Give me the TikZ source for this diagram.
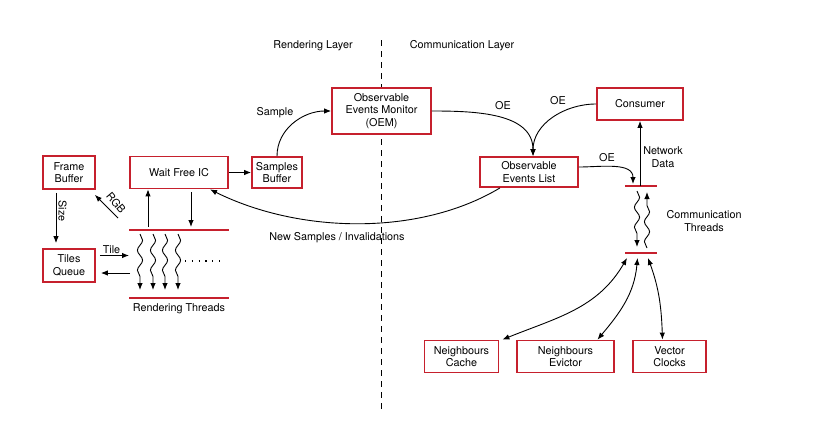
\documentclass[tikz,border=0pt]{standalone}
\usepackage{fontspec}
\setmainfont{TeX Gyre Heros}
\usetikzlibrary{arrows.meta,decorations.pathmorphing}
\definecolor{boxred}{RGB}{198,32,45}
\begin{document}
\begin{tikzpicture}[x=1pt,y=-1pt,
  font=\fontsize{10.8}{12.3}\selectfont,
  box/.style={draw=boxred, fill=white, line width=1.8pt, align=center, inner sep=0pt},
  arr/.style={-{Latex[length=7pt,width=5.5pt]}, line width=0.9pt},
  biarr/.style={{Latex[length=7pt,width=5.5pt]}-{Latex[length=7pt,width=5.5pt]}, line width=0.9pt},
  redline/.style={draw=boxred, line width=1.8pt},
  wavy/.style={arr, decorate, decoration={snake, amplitude=2.6pt, segment length=20pt, post length=11pt}},
  lbl/.style={inner sep=1pt, align=center}
]
\useasboundingbox (0,0) rectangle (819,423);

% layer labels and divider
\node[lbl] (rl) at (313,46) {Rendering Layer};
\node[lbl] (cl) at (462,46) {Communication Layer};
\coordinate (divT) at (381,40);
\coordinate (divB) at (381,412);
\draw[line width=0.9pt, dash pattern=on 6pt off 5pt] (divT) -- (divB);

% boxes
\node[box, minimum width=52pt, minimum height=33pt] (fb) at (69,172.5) {Frame\\Buffer};
\node[box, minimum width=98pt, minimum height=32pt] (wf) at (179,172.5) {Wait Free IC};
\node[box, minimum width=50pt, minimum height=31pt] (sb) at (277,172.5) {Samples\\Buffer};
\node[box, minimum width=99pt, minimum height=46pt] (oem) at (381.5,111) {Observable\\Events Monitor\\(OEM)};
\node[box, minimum width=98pt, minimum height=30pt] (oel) at (529,172) {Observable\\Events List};
\node[box, minimum width=86pt, minimum height=32pt] (cons) at (640,104) {Consumer};
\node[box, minimum width=52pt, minimum height=33pt] (tq) at (69,265.5) {Tiles\\Queue};
\node[box, minimum width=74pt, minimum height=32pt] (nc) at (461.5,356.5) {Neighbours\\Cache};
\node[box, minimum width=97pt, minimum height=32pt] (ne) at (565.5,356.5) {Neighbours\\Evictor};
\node[box, minimum width=73pt, minimum height=32pt] (vc) at (669.5,356.5) {Vector\\Clocks};

% rendering threads
\coordinate (rt1) at (129,230);
\coordinate (rt2) at (229,230);
\coordinate (rb1) at (129,298);
\coordinate (rb2) at (229,298);
\draw[redline] (rt1) -- (rt2);
\draw[redline] (rb1) -- (rb2);
\foreach \x [count=\i] in {140,153,165,178}{
  \coordinate (w\i a) at (\x,234);
  \coordinate (w\i b) at (\x,290);
  \draw[wavy] (w\i a) -- (w\i b);
}
\coordinate (dA) at (185,261);
\coordinate (dB) at (224,261);
\draw[line width=1.2pt, dash pattern=on 1.2pt off 5.6pt] (dA) -- (dB);
\node[lbl] (rtl) at (179,309) {Rendering Threads};

% frame buffer / tiles queue
\draw[arr, shorten <=3pt, shorten >=5pt] ([xshift=-13pt]fb.south) -- ([xshift=-13pt]tq.north);
\node[lbl, rotate=-90] (size) at (62.5,211) {Size};
\coordinate (rgbS) at (118,218);
\draw[arr] (rgbS) -- ([xshift=-1pt,yshift=-5pt]fb.south east);
\node[lbl, rotate=-50] (rgb) at (116,203) {RGB};

\draw[arr, shorten <=3pt] ([xshift=-31pt]rt1 -| wf.south) -- ([xshift=-31pt]wf.south);
\draw[arr, shorten <=3pt, shorten >=3pt] ([xshift=12pt]wf.south) -- ([xshift=12pt]wf.south |- rt1);

\coordinate (tileEnd) at (129,255.5);
\draw[arr] ([xshift=4pt,yshift=10pt]tq.east) -- (tileEnd) node[lbl, pos=0.4, above] {Tile};
\coordinate (backS) at (130,273);
\draw[arr] (backS) -- ([xshift=5pt,yshift=-7.5pt]tq.east);

% main flow
\draw[arr] (wf.east) -- (sb.west);
\draw[arr] (sb.north) to[out=90,in=180] (oem.west);
\node[lbl] (samplbl) at (275,113) {Sample};
\draw[arr] (oem.east) to[out=0,in=90] ([xshift=4pt]oel.north);
\node[lbl] (oe1) at (503,106) {OE};
\draw[arr] (cons.west) to[out=180,in=90] ([xshift=4pt]oel.north);
\node[lbl] (oe2) at (558,101) {OE};

% communication threads
\coordinate (ct1) at (625,186);
\coordinate (ct2) at (657,186);
\coordinate (cb1) at (625,253);
\coordinate (cb2) at (657,253);
\draw[redline] (ct1) -- (ct2);
\draw[redline] (cb1) -- (cb2);
\coordinate (cdA) at (637,191);
\coordinate (cdB) at (637,247);
\draw[wavy] (cdA) -- (cdB);
\coordinate (cuA) at (647,248);
\coordinate (cuB) at (647,192);
\draw[wavy] (cuA) -- (cuB);
\node[lbl] (ctl) at (704,221) {Communication\\Threads};

\coordinate (oeT) at (633,184);
\draw[arr] ([yshift=5pt]oel.east) to[out=0,in=90] (oeT);
\node[lbl] (oe3) at (607,158) {OE};
\coordinate (netS) at (640,186);
\draw[arr] (netS) -- (cons.south);
\node[lbl] (netl) at (663,157) {Network\\Data};

% new samples
\draw[arr] ([xshift=-29pt]oel.south) .. controls (420,236) and (300,234) .. ([xshift=31pt]wf.south);
\node[lbl] (nsl) at (337,238) {New Samples / Invalidations};

% bidirectional arrows
\coordinate (b1) at (627,258);
\coordinate (b2) at (637.5,258);
\coordinate (b3) at (648,258);
\draw[biarr] (b1) to[out=-120,in=22] ([xshift=3pt]nc.north east);
\draw[biarr] (b2) to[out=-95,in=50] ([xshift=32pt]ne.north);
\draw[biarr] (b3) to[out=-70,in=92] ([xshift=-7pt]vc.north);
\end{tikzpicture}
\end{document}
